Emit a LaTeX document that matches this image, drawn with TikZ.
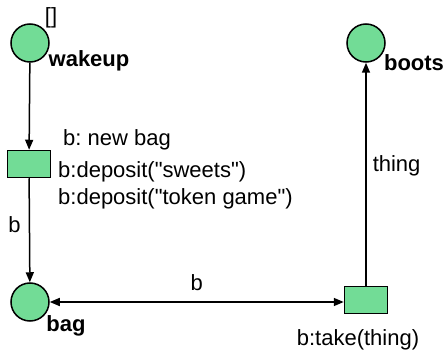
\documentclass[tikz,border=0pt]{standalone}
\usepackage{fontspec}
\setmainfont{Liberation Sans}
\usepackage{tikz}
\usetikzlibrary{arrows.meta, positioning}
\definecolor{placegreen}{HTML}{72DC96}
\frenchspacing

\begin{document}
\begin{tikzpicture}[
  x=1pt, y=-1pt,
  place/.style={circle, draw, line width=1.5pt, fill=placegreen, minimum size=38pt, inner sep=0pt},
  trans/.style={rectangle, draw, line width=1.5pt, fill=placegreen, minimum width=43pt, minimum height=27pt, inner sep=0pt},
  lbl/.style={font=\fontsize{22}{25}\selectfont, inner sep=0pt},
  pname/.style={font=\fontsize{22}{25}\selectfont\bfseries, inner sep=0pt},
  arr/.style={-{Triangle[length=10pt,width=8pt]}, line width=1.5pt},
  darr/.style={{Triangle[length=10pt,width=8pt]}-{Triangle[length=10pt,width=8pt]}, line width=1.5pt},
]
\useasboundingbox (0,0) rectangle (445,353);

\node[place] (wakeup) at (30,43) {};
\node[place] (bag) at (30,302) {};
\node[place] (boots) at (366,43) {};
\node[trans] (newbag) at (29,164) {};
\node[trans] (take) at (366,300) {};

\node[lbl] (marking) at (51,18) {[]};
\node[pname] (wakeuplbl) at (89,61) {wakeup};
\node[pname] (baglbl) at (66,326) {bag};
\node[pname] (bootslbl) at (414,63) {boots};

\node[lbl, anchor=west] (g1) at (63,140) {b: new bag};
\node[lbl, anchor=west] (g2) at (58,172) {b:deposit(\textquotedbl sweets\textquotedbl)};
\node[lbl, anchor=west] (g3) at (58,199) {b:deposit(\textquotedbl token game\textquotedbl)};
\node[lbl] (takelbl) at (358,340) {b:take(thing)};

\draw[arr] (wakeup) -- (newbag);
\draw[arr] (newbag) -- node[lbl, left=8pt, pos=0.45] (inscr1) {b} (bag);
\draw[darr] (bag) -- node[lbl, above=11pt] (inscr2) {b} (bag -| take.west);
\draw[arr] (take) -- node[lbl, right=6pt, pos=0.54] (inscr3) {thing} (boots);
\end{tikzpicture}
\end{document}
